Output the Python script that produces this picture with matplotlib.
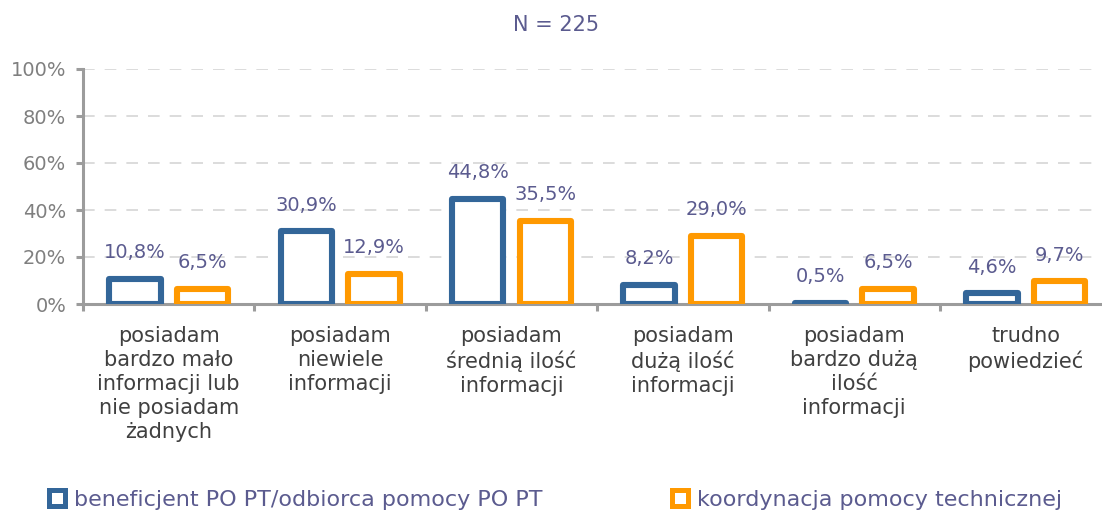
import matplotlib
matplotlib.use("Agg")
import matplotlib.pyplot as plt
from matplotlib.lines import Line2D
import numpy as np

categories = [
    "posiadam\nbardzo mało\ninformacji lub\nnie posiadam\nżadnych",
    "posiadam\nniewiele\ninformacji",
    "posiadam\nśrednią ilość\ninformacji",
    "posiadam\ndużą ilość\ninformacji",
    "posiadam\nbardzo dużą\nilość\ninformacji",
    "trudno\npowiedzieć",
]
series_names = ["beneficjent PO PT/odbiorca pomocy PO PT", "koordynacja pomocy technicznej"]
beneficjent = [10.8, 30.9, 44.8, 8.2, 0.5, 4.6]
koordynacja = [6.5, 12.9, 35.5, 29.0, 6.5, 9.7]
yticks = [0, 20, 40, 60, 80, 100]
title = "N = 225"

BLUE = "#336699"
ORANGE = "#FF9900"
LABEL_C = "#5B5B8F"
AXIS_C = "#9C9C9C"
TXT_C = "#404040"

W, H = 1102, 515
fig = plt.figure(figsize=(W / 100, H / 100), dpi=100)
ax = fig.add_axes([83 / W, 1 - 304 / H, (1100 - 83) / W, (304 - 69) / H])

x = np.arange(len(categories))
off = 0.197
bw = 0.30
for vals, col, sgn in [(beneficjent, BLUE, -1), (koordynacja, ORANGE, 1)]:
    bars = ax.bar(x + sgn * off, vals, width=bw, facecolor="white", edgecolor=col,
                  linewidth=4.4, zorder=3)
    for b in bars:
        b.set_joinstyle("round")
    for xi, v in zip(x, vals):
        ax.annotate(f"{v:.1f}%".replace(".", ","), (xi + sgn * off, v),
                    xytext=(0, 12), textcoords="offset points", ha="center", va="bottom",
                    fontsize=14, color=LABEL_C, zorder=4)

ax.set_yticks(yticks)
ax.set_yticklabels([f"{t}%" for t in yticks])
ax.yaxis.grid(True, color="#D6D6D6", linewidth=1.2, linestyle=(0, (7, 6)), zorder=0)
ax.set_axisbelow(True)

ax.set_xticks(x)
ax.set_xticklabels(categories, fontsize=15, color=TXT_C, linespacing=1.25)
ax.set_xticks(np.arange(-0.5, len(categories) + 0.5, 1), minor=True)
ax.tick_params(axis="x", which="major", length=0, pad=16)
ax.tick_params(axis="x", which="minor", length=5, width=2.2, color=AXIS_C)
ax.tick_params(axis="y", length=5, width=2.2, color=AXIS_C, labelsize=14,
               labelcolor="#7F7F7F", pad=7)
ax.set_ylim(0, 100)
ax.set_xlim(-0.5, -0.5 + (1100 - 83) / 171.4)

for s in ["top", "right"]:
    ax.spines[s].set_visible(False)
for s in ["left", "bottom"]:
    ax.spines[s].set_color(AXIS_C)
    ax.spines[s].set_linewidth(2.2)

fig.text(556 / W, 1 - 25 / H, title, ha="center", va="center", fontsize=15, color=LABEL_C)

for name, col, xl in [(series_names[0], BLUE, 47), (series_names[1], ORANGE, 670)]:
    h = Line2D([], [], marker="s", linestyle="none", markersize=11, markerfacecolor="white",
               markeredgecolor=col, markeredgewidth=3.6)
    fig.legend([h], [name], loc="center left", bbox_to_anchor=(xl / W, 1 - 500 / H),
               frameon=False, borderpad=0, borderaxespad=0, handlelength=0.9,
               handletextpad=0.3, prop={"size": 16}, labelcolor=LABEL_C)

fig.savefig("out.png", dpi=100)
